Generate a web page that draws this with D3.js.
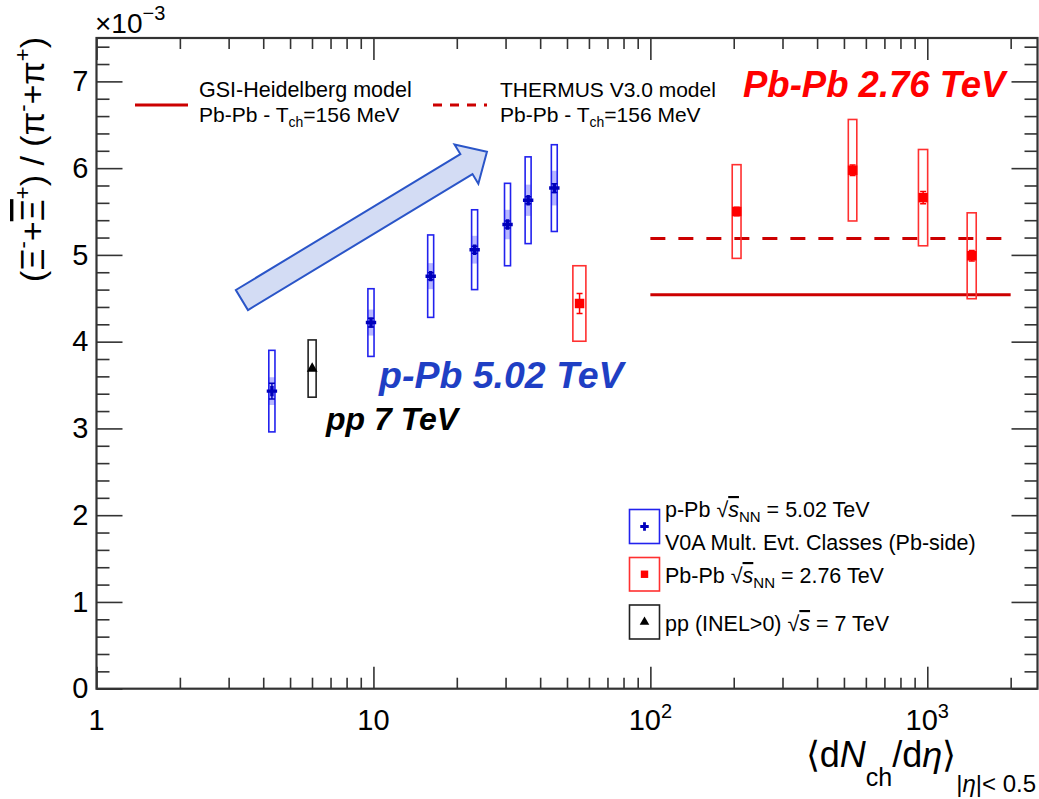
<!DOCTYPE html>
<html lang="en">
<head>
<meta charset="utf-8">
<title>Xi / pi ratio vs dNch/deta</title>
<script src="https://d3js.org/d3.v7.min.js"></script>
<style>
  body { margin: 0; background: #fff; }
  svg text { font-family: "Liberation Sans", Arial, Helvetica, sans-serif; }
</style>
</head>
<body>
<div id="chart"></div>
<script>
// p-Pb 5.02 TeV, V0A multiplicity classes
var pPbMult   = [4.3, 9.8, 16.1, 23.2, 30.5, 36.2, 45.0];
var pPbMultErr = [0.11, 0.25, 0.4, 0.58, 0.76, 0.9, 1.1];
var pPbRatio  = [3.43, 4.22, 4.755, 5.06, 5.35, 5.63, 5.77];
var pPbStat   = [0.09, 0.05, 0.04, 0.04, 0.04, 0.04, 0.05];
var pPbSys    = [0.47, 0.39, 0.475, 0.46, 0.475, 0.50, 0.50];
var pPbSysUnc = [0.16, 0.15, 0.15, 0.16, 0.17, 0.18, 0.20];

// Pb-Pb 2.76 TeV centrality classes
var PbPbMult    = [55.5, 205, 537.5, 966, 1447.5];
var PbPbMultErr = [3, 7.5, 19, 37, 54.5];
var PbPbRatio   = [4.44, 5.50, 5.976, 5.66, 4.99];
var PbPbStat    = [0.115, 0.05, 0.06, 0.07, 0.06];
var PbPbSys     = [0.435, 0.54, 0.585, 0.555, 0.495];

// pp 7 TeV INEL>0
var ppMult    = [6.01];
var ppMultErr = [0.2];
var ppRatio   = [3.69];
var ppSys     = [0.33];

// thermal model predictions (Pb-Pb, Tch = 156 MeV)
var modelRange = [100, 2000];
var gsiValue = 4.54;
var thermusValue = 5.19;

// axis ticks
var xMajor = [1, 10, 100, 1000];
var xMinor = [2, 3, 4, 5, 6, 7, 8, 9, 20, 30, 40, 50, 60, 70, 80, 90,
              200, 300, 400, 500, 600, 700, 800, 900, 2000];
var xLabels = [["1", ""], ["10", ""], ["10", "2"], ["10", "3"]];
var yMajor = [0, 1, 2, 3, 4, 5, 6, 7];
var yMinor = d3.range(0, 7.5, 0.2).filter(function(v) { return Math.abs(v - Math.round(v)) > 0.01; });

// trend arrow, in data coordinates
var arrowFrom = [3.35, 4.48];
var arrowTo = [25.7, 6.19];

var W = 1039, H = 799;
var fLeft = 96.5, fRight = 1037.5, fTop = 38, fBottom = 688.7;

var svg = d3.select("#chart").append("svg")
    .attr("width", W).attr("height", H);

var x = d3.scaleLog().domain([1, 2500]).range([fLeft, fRight]);
var y = d3.scaleLinear().domain([0, 7.5]).range([fBottom, fTop]);

var axisColor = "#333";

// axes (ticks inside the frame, mirrored on top/right)
function styleAxis(g) {
    g.select(".domain").remove();
    g.selectAll("line").attr("stroke", axisColor).attr("stroke-width", 1.6);
}
svg.append("g").attr("transform", "translate(0," + fBottom + ")")
    .call(d3.axisBottom(x).tickValues(xMajor).tickSizeInner(-22).tickSizeOuter(0).tickFormat(""))
    .call(styleAxis);
svg.append("g").attr("transform", "translate(0," + fBottom + ")")
    .call(d3.axisBottom(x).tickValues(xMinor).tickSizeInner(-11).tickSizeOuter(0).tickFormat(""))
    .call(styleAxis);
svg.append("g").attr("transform", "translate(0," + fTop + ")")
    .call(d3.axisTop(x).tickValues(xMajor).tickSizeInner(-22).tickSizeOuter(0).tickFormat(""))
    .call(styleAxis);
svg.append("g").attr("transform", "translate(0," + fTop + ")")
    .call(d3.axisTop(x).tickValues(xMinor).tickSizeInner(-11).tickSizeOuter(0).tickFormat(""))
    .call(styleAxis);

svg.append("g").attr("transform", "translate(" + fLeft + ",0)")
    .call(d3.axisLeft(y).tickValues(yMajor).tickSizeInner(-26).tickSizeOuter(0).tickPadding(8))
    .call(styleAxis)
    .selectAll("text")
    .attr("font-size", 29).attr("fill", "#000")
    .style("font-family", "Liberation Sans, Arial, sans-serif");
svg.append("g").attr("transform", "translate(" + fLeft + ",0)")
    .call(d3.axisLeft(y).tickValues(yMinor).tickSizeInner(-13).tickSizeOuter(0).tickFormat(""))
    .call(styleAxis);
svg.append("g").attr("transform", "translate(" + fRight + ",0)")
    .call(d3.axisRight(y).tickValues(yMajor).tickSizeInner(-26).tickSizeOuter(0).tickFormat(""))
    .call(styleAxis);
svg.append("g").attr("transform", "translate(" + fRight + ",0)")
    .call(d3.axisRight(y).tickValues(yMinor).tickSizeInner(-13).tickSizeOuter(0).tickFormat(""))
    .call(styleAxis);

// frame
svg.append("rect")
    .attr("x", fLeft).attr("y", fTop)
    .attr("width", fRight - fLeft).attr("height", fBottom - fTop)
    .attr("fill", "none").attr("stroke", axisColor).attr("stroke-width", 2.2);

// x tick labels with exponents
var xl = svg.append("g").selectAll("text")
    .data(xMajor).enter().append("text")
    .attr("x", function(d) { return x(d); })
    .attr("y", 730)
    .attr("text-anchor", "middle")
    .attr("font-size", 29);
xl.append("tspan").text(function(d, i) { return xLabels[i][0]; });
xl.append("tspan").attr("dy", -12).attr("font-size", 20)
    .text(function(d, i) { return xLabels[i][1]; });

// x10^-3
var ex = svg.append("text").attr("x", 95).attr("y", 33).attr("font-size", 28);
ex.append("tspan").text("\u00d710");
ex.append("tspan").attr("dy", -13).attr("font-size", 20).text("\u22123");

// axis titles
var xt = svg.append("text").attr("x", 1036).attr("y", 767)
    .attr("text-anchor", "end").attr("font-size", 36);
xt.append("tspan").text("\u27e8d");
xt.append("tspan").attr("font-style", "italic").text("N");
xt.append("tspan").attr("font-size", 25).attr("dy", 19).text("ch");
xt.append("tspan").attr("dy", -19).text("/d");
xt.append("tspan").attr("font-style", "italic").text("\u03b7");
xt.append("tspan").text("\u27e9");
xt.append("tspan").attr("font-size", 24).attr("dy", 25).text("|");
xt.append("tspan").attr("font-size", 24).attr("font-style", "italic").text("\u03b7");
xt.append("tspan").attr("font-size", 24).text("|< 0.5");

var yt = svg.append("text")
    .attr("transform", "translate(44,37) rotate(-90)")
    .attr("text-anchor", "end").attr("font-size", 34);
yt.append("tspan").text("(\u039e");
yt.append("tspan").attr("font-size", 22).attr("dy", -14).text("-");
yt.append("tspan").attr("dy", 14).text("+");
yt.append("tspan").attr("text-decoration", "overline").text("\u039e");
yt.append("tspan").attr("font-size", 22).attr("dy", -14).text("+");
yt.append("tspan").attr("dy", 14).text(") / (\u03c0");
yt.append("tspan").attr("font-size", 22).attr("dy", -14).text("-");
yt.append("tspan").attr("dy", 14).text("+\u03c0");
yt.append("tspan").attr("font-size", 22).attr("dy", -14).text("+");
yt.append("tspan").attr("dy", 14).text(")");

// trend arrow
(function() {
    var p0 = [x(arrowFrom[0]), y(arrowFrom[1])];
    var p1 = [x(arrowTo[0]), y(arrowTo[1])];
    var dx = p1[0] - p0[0], dy = p1[1] - p0[1];
    var len = Math.sqrt(dx * dx + dy * dy);
    var ux = dx / len, uy = dy / len, nx = -uy, ny = ux;
    var shaft = 11.7, head = 23, headLen = 24;
    var bx = p1[0] - ux * headLen, by = p1[1] - uy * headLen;
    var pts = [
        [p0[0] + nx * shaft, p0[1] + ny * shaft],
        [bx + nx * shaft, by + ny * shaft],
        [bx + nx * head, by + ny * head],
        p1,
        [bx - nx * head, by - ny * head],
        [bx - nx * shaft, by - ny * shaft],
        [p0[0] - nx * shaft, p0[1] - ny * shaft]
    ];
    svg.append("path")
        .attr("d", d3.line()(pts) + "Z")
        .attr("fill", "#d3dcf4")
        .attr("stroke", "#2a55c8")
        .attr("stroke-width", 2);
})();

// model lines
svg.append("line")
    .attr("x1", x(modelRange[0])).attr("x2", x(modelRange[1]))
    .attr("y1", y(gsiValue)).attr("y2", y(gsiValue))
    .attr("stroke", "#cc0000").attr("stroke-width", 3);
svg.append("line")
    .attr("x1", x(modelRange[0])).attr("x2", x(modelRange[1]))
    .attr("y1", y(thermusValue)).attr("y2", y(thermusValue))
    .attr("stroke", "#cc0000").attr("stroke-width", 3)
    .attr("stroke-dasharray", "15,13");

// helper to draw one data set
function drawSet(mult, multErr, ratio, sys, opts) {
    var g = svg.append("g");
    var idx = d3.range(mult.length);
    if (opts.sysUnc) {
        g.selectAll(".unc").data(idx).enter().append("rect")
            .attr("x", function(i) { return x(mult[i] - multErr[i]); })
            .attr("width", function(i) { return x(mult[i] + multErr[i]) - x(mult[i] - multErr[i]); })
            .attr("y", function(i) { return y(ratio[i] + opts.sysUnc[i]); })
            .attr("height", function(i) { return y(ratio[i] - opts.sysUnc[i]) - y(ratio[i] + opts.sysUnc[i]); })
            .attr("fill", opts.color).attr("fill-opacity", 0.28);
    }
    g.selectAll(".sys").data(idx).enter().append("rect")
        .attr("x", function(i) { return x(mult[i] - multErr[i]); })
        .attr("width", function(i) { return x(mult[i] + multErr[i]) - x(mult[i] - multErr[i]); })
        .attr("y", function(i) { return y(ratio[i] + sys[i]); })
        .attr("height", function(i) { return y(ratio[i] - sys[i]) - y(ratio[i] + sys[i]); })
        .attr("fill", "none").attr("stroke", opts.boxColor).attr("stroke-width", 1.6);
    if (opts.stat) {
        g.selectAll(".stat").data(idx).enter().append("path")
            .attr("d", function(i) {
                var cx = x(mult[i]), y0 = y(ratio[i] - opts.stat[i]), y1 = y(ratio[i] + opts.stat[i]);
                return "M" + cx + "," + y0 + "V" + y1 +
                    "M" + (cx - 3) + "," + y0 + "H" + (cx + 3) +
                    "M" + (cx - 3) + "," + y1 + "H" + (cx + 3);
            })
            .attr("stroke", opts.markColor).attr("stroke-width", 1.5).attr("fill", "none");
    }
    g.selectAll(".mark").data(idx).enter().append("path")
        .attr("transform", function(i) { return "translate(" + x(mult[i]) + "," + y(ratio[i]) + ")"; })
        .attr("d", d3.symbol().type(opts.symbol).size(opts.size))
        .attr("fill", opts.markColor);
}

drawSet(pPbMult, pPbMultErr, pPbRatio, pPbSys,
    { color: "#0000ff", boxColor: "#2222ee", markColor: "#0000bb", stat: pPbStat,
      sysUnc: pPbSysUnc, symbol: d3.symbolCross, size: 60 });
drawSet(PbPbMult, PbPbMultErr, PbPbRatio, PbPbSys,
    { boxColor: "#ff3030", markColor: "#ff0000", stat: PbPbStat,
      symbol: d3.symbolSquare, size: 90 });
drawSet(ppMult, ppMultErr, ppRatio, ppSys,
    { boxColor: "#222", markColor: "#000", symbol: d3.symbolTriangle, size: 50 });

// big labels
svg.append("text").attr("x", 743).attr("y", 97)
    .attr("font-size", 36.5).attr("font-weight", "bold").attr("font-style", "italic")
    .attr("fill", "#ff0000").text("Pb-Pb 2.76 TeV");
svg.append("text").attr("x", 379).attr("y", 388)
    .attr("font-size", 37.5).attr("font-weight", "bold").attr("font-style", "italic")
    .attr("fill", "#1f3fc4").text("p-Pb 5.02 TeV");
svg.append("text").attr("x", 326).attr("y", 430)
    .attr("font-size", 32).attr("font-weight", "bold").attr("font-style", "italic")
    .attr("fill", "#000").text("pp 7 TeV");

// model legend
function tchLine(g, xx, yy) {
    var t = g.append("text").attr("x", xx).attr("y", yy).attr("font-size", 21);
    t.append("tspan").text("Pb-Pb - T");
    t.append("tspan").attr("font-size", 14).attr("dy", 5).text("ch");
    t.append("tspan").attr("dy", -5).text("=156 MeV");
}
var ml = svg.append("g");
ml.append("line").attr("x1", 135).attr("x2", 188).attr("y1", 105).attr("y2", 105)
    .attr("stroke", "#cc0000").attr("stroke-width", 3);
ml.append("text").attr("x", 199).attr("y", 97).attr("font-size", 21.5).text("GSI-Heidelberg model");
tchLine(ml, 199, 122);
ml.append("line").attr("x1", 433).attr("x2", 487).attr("y1", 105).attr("y2", 105)
    .attr("stroke", "#cc0000").attr("stroke-width", 3).attr("stroke-dasharray", "9,8");
ml.append("text").attr("x", 500).attr("y", 97).attr("font-size", 21).text("THERMUS V3.0 model");
tchLine(ml, 500, 122);

// data legend
var lg = svg.append("g");
function sqrtS(t, sub) {
    t.append("tspan").text("\u221a");
    t.append("tspan").attr("font-style", "italic").attr("text-decoration", "overline").text("s");
    if (sub) {
        t.append("tspan").attr("font-size", 15).attr("dy", 5).text(sub);
        t.append("tspan").attr("dy", -5).text(" ");
    } else {
        t.append("tspan").text(" ");
    }
}
var legendBoxes = [
    { y0: 509.5, h: 34, color: "#2222ee", symbol: d3.symbolCross, size: 40, mark: "#0000bb" },
    { y0: 557.5, h: 33.5, color: "#ff3030", symbol: d3.symbolSquare, size: 55, mark: "#ff0000" },
    { y0: 605, h: 34, color: "#222", symbol: d3.symbolTriangle, size: 40, mark: "#000" }
];
legendBoxes.forEach(function(b) {
    lg.append("rect").attr("x", 629.5).attr("y", b.y0).attr("width", 30).attr("height", b.h)
        .attr("fill", "none").attr("stroke", b.color).attr("stroke-width", 1.6);
    lg.append("path").attr("transform", "translate(644.5," + (b.y0 + b.h / 2) + ")")
        .attr("d", d3.symbol().type(b.symbol).size(b.size)).attr("fill", b.mark);
});
var t1 = lg.append("text").attr("x", 665).attr("y", 517).attr("font-size", 21.5);
t1.append("tspan").text("p-Pb ");
sqrtS(t1, "NN");
t1.append("tspan").text("= 5.02 TeV");
lg.append("text").attr("x", 665).attr("y", 550).attr("font-size", 21.5)
    .text("V0A Mult. Evt. Classes (Pb-side)");
var t2 = lg.append("text").attr("x", 665).attr("y", 583).attr("font-size", 21.5);
t2.append("tspan").text("Pb-Pb ");
sqrtS(t2, "NN");
t2.append("tspan").text("= 2.76 TeV");
var t3 = lg.append("text").attr("x", 665).attr("y", 631).attr("font-size", 21.5);
t3.append("tspan").text("pp (INEL>0) ");
sqrtS(t3, null);
t3.append("tspan").text("= 7 TeV");
</script>
</body>
</html>
